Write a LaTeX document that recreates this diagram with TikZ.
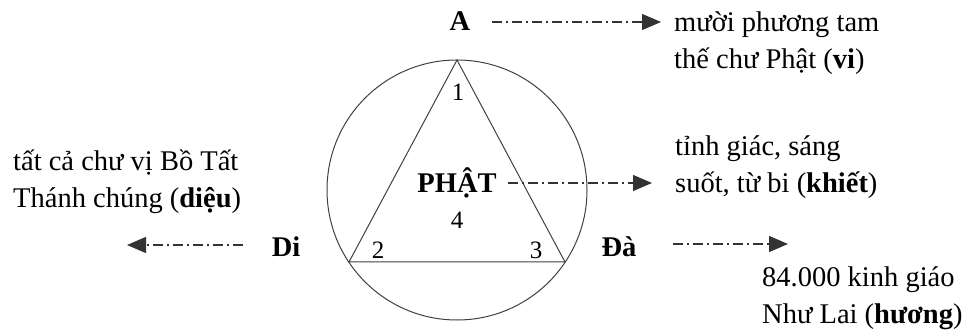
\documentclass[tikz,border=0pt]{standalone}
\usepackage{fontspec}
\setmainfont{Liberation Serif}
\usetikzlibrary{arrows.meta}
\tikzset{
  txt/.style={inner sep=0pt, anchor=base west, align=left, font=\fontsize{28.5}{37}\selectfont},
  lbl/.style={inner sep=0pt, anchor=base, font=\fontsize{28.5}{37}\selectfont\bfseries},
  num/.style={inner sep=0pt, font=\fontsize{25}{30}\selectfont},
  shp/.style={line width=1pt, draw=black!75},
  dd/.style={line width=1.2pt, draw=black!80, dash pattern=on 10pt off 4pt on 2pt off 4pt,
    -{Triangle[length=19pt,width=16pt]}}
}
\begin{document}
\begin{tikzpicture}[x=1pt,y=-1pt]
\useasboundingbox (0,0) rectangle (964,331);
% circle and triangle
\coordinate (O) at (457,190);
\draw[shp] (O) circle[radius=130pt];
\coordinate (T1) at (457,60);
\coordinate (T2) at (349,262);
\coordinate (T3) at (565,262);
\draw[shp] (T1) -- (T2) -- (T3) -- cycle;
% numbers
\node[num] (n1) at (458,92) {1};
\node[num] (n2) at (378,250) {2};
\node[num] (n3) at (536,250) {3};
\node[num] (n4) at (457,220) {4};
% bold labels
\node[lbl] (A) at (460,31) {A};
\node[lbl] (P) at (457,193) {PHẬT};
\node[lbl] (Di) at (286,256) {Di};
\node[lbl] (Da) at (619,257) {Đà};
% texts (anchor at baseline of last line)
\node[txt] (tA) at (674,69) {mười phương tam\\thế chư Phật (\textbf{vi})};
\node[txt] (tP) at (675,193) {tỉnh giác, sáng\\suốt, từ bi (\textbf{khiết})};
\node[txt] (tD) at (762,323) {84.000 kinh giáo\\Như Lai (\textbf{hương})};
\node[txt] (tL) at (13,208) {tất cả chư vị Bồ Tất\\Thánh chúng (\textbf{diệu})};
% arrows
\coordinate (aS) at (492,22);  \coordinate (aE) at (661,22);
\coordinate (pS) at (508,183); \coordinate (pE) at (652,183);
\coordinate (lS) at (243,245); \coordinate (lE) at (127,245);
\coordinate (dS) at (673,244); \coordinate (dE) at (788,244);
\draw[dd] (aS) -- (aE);
\draw[dd] (pS) -- (pE);
\draw[dd] (lS) -- (lE);
\draw[dd] (dS) -- (dE);
\end{tikzpicture}
\end{document}
